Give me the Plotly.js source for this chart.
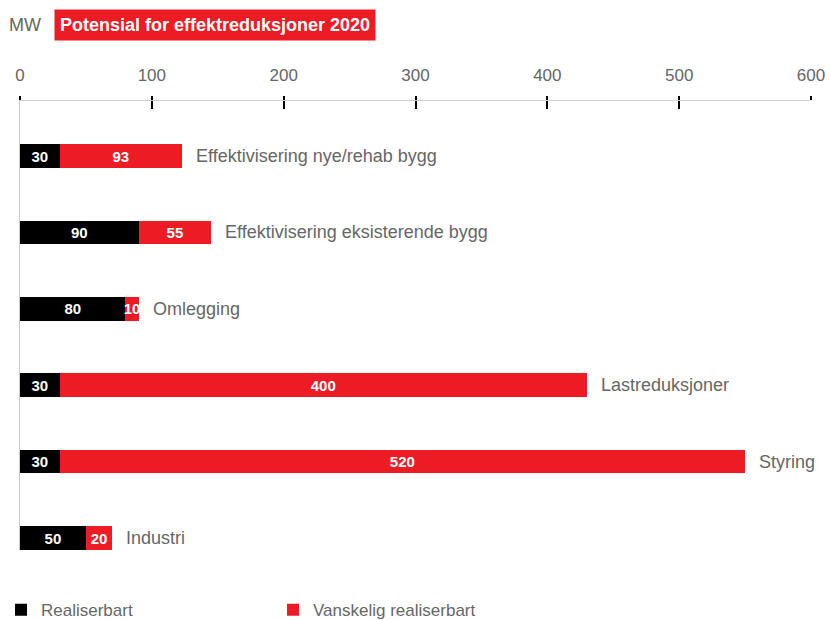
<!DOCTYPE html>
<html>
<head>
<meta charset="utf-8">
<script src="https://cdn.plot.ly/plotly-3.0.1.min.js"></script>
<style>html,body{margin:0;padding:0;background:#fff}#chart{width:829px;height:620px}</style>
</head>
<body>
<div id="chart"></div>
<script>
const categories = [
  "Effektivisering nye/rehab bygg",
  "Effektivisering eksisterende bygg",
  "Omlegging",
  "Lastreduksjoner",
  "Styring",
  "Industri"
];
const realiserbart = [30, 90, 80, 30, 30, 50];
const vanskelig = [93, 55, 10, 400, 520, 20];
const tickVals = [0, 100, 200, 300, 400, 500, 600];
const seriesNames = ["Realiserbart", "Vanskelig realiserbart"];
const titleText = "Potensial for effektreduksjoner 2020";
const unitText = "MW";

const FONT = "Liberation Sans, Arial, Helvetica, sans-serif";
const RED = "#ed1c24";
const GREY = "#666666";
const idx = categories.map((_, i) => i);

const barCommon = {
  type: "bar",
  orientation: "h",
  y: idx,
  width: 0.31,
  textposition: "inside",
  insidetextanchor: "middle",
  constraintext: "none",
  textangle: 0,
  textfont: {family: FONT, size: 15, color: "#ffffff", weight: "bold"},
  hoverinfo: "skip",
  marker: {line: {width: 0}}
};

const traces = [
  Object.assign({}, barCommon, {
    name: seriesNames[0], x: realiserbart, text: realiserbart.map(String),
    marker: {color: "#000000", line: {width: 0}}
  }),
  Object.assign({}, barCommon, {
    name: seriesNames[1], x: vanskelig, text: vanskelig.map(String),
    marker: {color: RED, line: {width: 0}}
  }),
  {type: "scatter", x: [], y: [], xaxis: "x2", showlegend: false, hoverinfo: "skip"}
];

const annotations = categories.map((c, i) => ({
  x: realiserbart[i] + vanskelig[i], y: i, xref: "x", yref: "y",
  text: c, showarrow: false, xanchor: "left", yanchor: "middle", xshift: 12,
  font: {family: FONT, size: 18, color: GREY}
}));
annotations.push({
  xref: "paper", yref: "paper", x: -0.016, y: 1.170, xanchor: "left", yanchor: "middle",
  text: unitText, showarrow: false, font: {family: FONT, size: 18, color: GREY}
});
annotations.push({
  xref: "paper", yref: "paper", x: 0.043, y: 1.170, xanchor: "left", yanchor: "middle",
  text: titleText, showarrow: false, bgcolor: RED, borderpad: 5,
  font: {family: FONT, size: 18, color: "#ffffff", weight: "bold"}
});

const layout = {
  width: 829, height: 620,
  margin: {l: 20, r: 18, t: 101, b: 70, pad: 0, autoexpand: false},
  paper_bgcolor: "#ffffff", plot_bgcolor: "#ffffff",
  barmode: "stack",
  showlegend: true,
  legend: {
    orientation: "h", x: -0.024, xanchor: "left", y: -0.134, yanchor: "middle",
    entrywidth: 227, entrywidthmode: "pixels",
    font: {family: FONT, size: 17, color: GREY}, traceorder: "normal"
  },
  xaxis: {
    side: "top", range: [0, 600], tickvals: tickVals, ticktext: tickVals.map(String),
    ticks: "inside", ticklen: 8, tickwidth: 2, tickcolor: "#000",
    showline: true, linecolor: "#d6cec9", linewidth: 1.5,
    showgrid: false, zeroline: false, fixedrange: true,
    ticklabelstandoff: 12, layer: "below traces",
    tickfont: {family: FONT, size: 17, color: GREY}
  },
  xaxis2: {
    overlaying: "x", side: "top", anchor: "y", range: [0, 600], tickvals: tickVals,
    ticks: "outside", ticklen: 4, tickwidth: 2, tickcolor: "#000",
    showticklabels: false, showline: false, showgrid: false, zeroline: false
  },
  yaxis: {
    range: [5.157, -0.72], showticklabels: false, ticks: "",
    showline: true, linecolor: "#cfc9c4", linewidth: 1.5,
    showgrid: false, zeroline: false, fixedrange: true, layer: "below traces"
  },
  annotations: annotations,
  font: {family: FONT}
};

Plotly.newPlot("chart", traces, layout, {displayModeBar: false, staticPlot: true});
</script>
</body>
</html>
